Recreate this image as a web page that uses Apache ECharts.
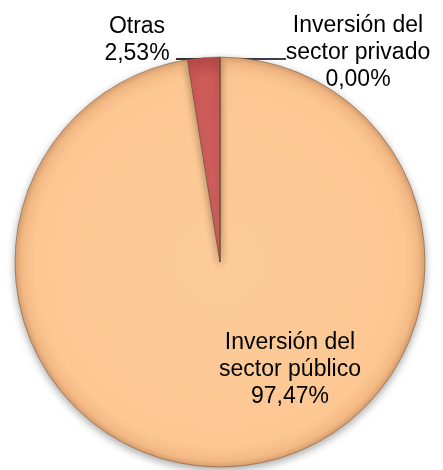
<!DOCTYPE html>
<html>
<head>
<meta charset="utf-8">
<script src="https://cdn.jsdelivr.net/npm/echarts@6/dist/echarts.min.js"></script>
<style>
  html, body { margin: 0; padding: 0; background: #fff; }
  #chart { width: 443px; height: 470px; }
</style>
</head>
<body>
<div id="chart"></div>
<script>
// datos del gráfico
const categories = ["Inversión del\nsector público", "Otras", "Inversión del\nsector privado"];
const values = [97.47, 2.53, 0.0];

// posición de cada etiqueta (centro) y su línea guía
const labelPos = [
  { x: 290, y: 370, line: null },
  { x: 137, y: 40, line: [[200, 59], [176, 59]] },
  { x: 358, y: 53, line: [[220, 59], [286, 59]] },
];

const peach = {
  type: "radial", x: 220, y: 262, r: 205, global: true,
  colorStops: [
    { offset: 0, color: "#FDCB99" },
    { offset: 0.9, color: "#FCC793" },
    { offset: 0.97, color: "#F3B985" },
    { offset: 1, color: "#D9A070" },
  ],
};
const red = {
  type: "radial", x: 220, y: 262, r: 205, global: true,
  colorStops: [
    { offset: 0, color: "#D06260" },
    { offset: 0.9, color: "#CC5A57" },
    { offset: 1, color: "#B5484A" },
  ],
};
const colors = [peach, red, "#9BBB59"];

const chart = echarts.init(document.getElementById("chart"));
const option = {
  animation: false,
  series: [
    {
      type: "pie",
      center: [220, 262],
      radius: 205,
      startAngle: 90,
      clockwise: true,
      avoidLabelOverlap: false,
      itemStyle: {
        borderColor: "rgba(110,70,40,0.6)",
        borderWidth: 0.8,
        shadowBlur: 8,
        shadowOffsetY: 3,
        shadowColor: "rgba(0,0,0,0.35)",
      },
      label: {
        show: true,
        color: "#000",
        fontFamily: "Liberation Sans, Arial, sans-serif",
        fontSize: 23,
        lineHeight: 27,
        align: "center",
        formatter: (p) => p.name + "\n" + p.value.toFixed(2).replace(".", ",") + "%",
      },
      labelLine: {
        show: true,
        lineStyle: { color: "#000", width: 1.6, opacity: 1 },
      },
      labelLayout: (params) => {
        const pos = labelPos[params.dataIndex];
        const out = { x: pos.x, y: pos.y, align: "center", verticalAlign: "middle" };
        if (pos.line) out.labelLinePoints = [pos.line[0], pos.line[0], pos.line[1]];
        return out;
      },
      data: categories.map((name, i) => ({
        name: name,
        value: values[i],
        itemStyle: { color: colors[i] },
        labelLine: { show: i !== 0, lineStyle: { color: "#000" } },
      })),
    },
  ],
};
chart.setOption(option);
</script>
</body>
</html>
